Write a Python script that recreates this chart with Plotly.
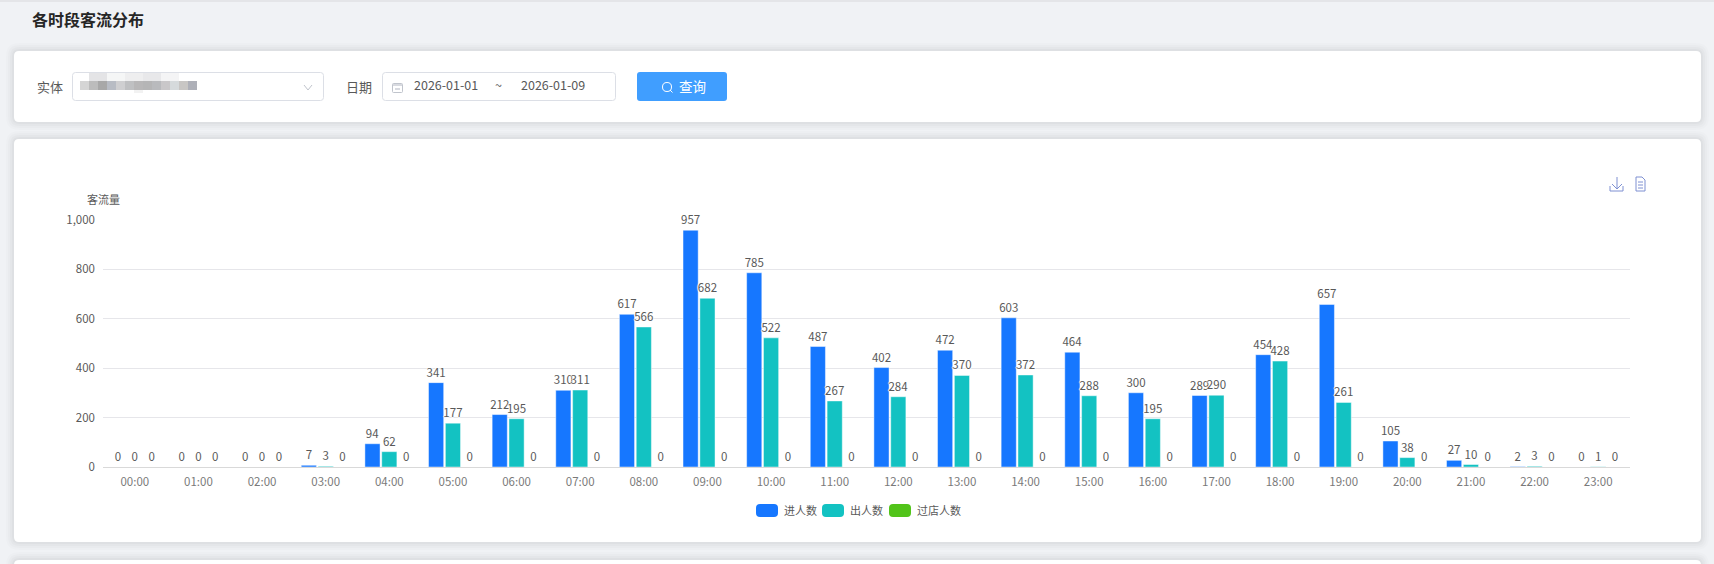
"""各时段客流分布 页面截图的复刻."""

import plotly.graph_objects as go

W, H = 1714, 564
FONT = "Noto Sans CJK SC"

hours = ["%02d:00" % h for h in range(24)]
series_names = ["进人数", "出人数", "过店人数"]
series_colors = ["#1677ff", "#13c2c2", "#52c41a"]
enter_counts = [0, 0, 0, 7, 94, 341, 212, 310, 617, 957, 785, 487, 402, 472, 603, 464, 300, 289, 454, 657, 105, 27, 2, 0]
exit_counts = [0, 0, 0, 3, 62, 177, 195, 311, 566, 682, 522, 267, 284, 370, 372, 288, 195, 290, 428, 261, 38, 10, 3, 1]
pass_counts = [0] * 24
y_ticks = [0, 200, 400, 600, 800, 1000]


def px(x):
    return x / W


def py(y):
    return 1 - y / H


def round_rect(x0, y0, x1, y1, r):
    a, b, c, d = px(x0), px(x1), py(y0), py(y1)
    rx, ry = r / W, r / H
    return (f"M{a + rx},{c} L{b - rx},{c} Q{b},{c} {b},{c - ry} L{b},{d + ry} Q{b},{d} {b - rx},{d} "
            f"L{a + rx},{d} Q{a},{d} {a},{d + ry} L{a},{c - ry} Q{a},{c} {a + rx},{c} Z")


def poly(points, close=False):
    s = "M" + " L".join(f"{px(x)},{py(y)}" for x, y in points)
    return s + (" Z" if close else "")


shapes = []
annotations = []


def box(x0, y0, x1, y1, r=0, fill="#ffffff", line=None, width=1, opacity=1):
    shapes.append(dict(type="path", xref="paper", yref="paper", layer="below", path=round_rect(x0, y0, x1, y1, r),
                       fillcolor=fill, opacity=opacity,
                       line=dict(color=line or "rgba(0,0,0,0)", width=width if line else 0)))


def stroke(points, color, width=1):
    shapes.append(dict(type="path", xref="paper", yref="paper", layer="below", path=poly(points),
                       line=dict(color=color, width=width)))


def card(x0, y0, x1, y1):
    for grow, alpha in [(8, 0.012), (6, 0.015), (4, 0.02), (2, 0.025)]:
        box(x0 - grow, y0 - grow, x1 + grow, y1 + grow, 5 + grow, fill="#000000", opacity=alpha)
    box(x0, y0, x1, y1, 5)


def label(x, y, text, size=12, color="#595959", anchor="left", bold=False):
    annotations.append(dict(xref="paper", yref="paper", x=px(x), y=py(y), text=f"<b>{text}</b>" if bold else text,
                            showarrow=False, xanchor=anchor, yanchor="middle", borderpad=0,
                            font=dict(family=FONT, size=size, color=color)))


# page
box(0, 0, W, 2, fill="#e4e5e8")
card(14, 51, 1701, 122)
card(14, 139, 1701, 542)
card(14, 560, 1701, 600)

label(31, 19, "各时段客流分布", 16, "#262626", bold=True)

# filter row
label(35.5, 86, "实体", 13)
box(72.5, 72.5, 323.5, 100.5, 3, line="#dcdfe6")
for x0, x1, c in [(89, 107, "#e4e4e6"), (107, 125, "#f5f6f6"), (125, 143, "#eeeeef"), (143, 161, "#e8e8ea"), (161, 179, "#f4f4f5")]:
    box(x0, 73, x1, 81, fill=c)
for i, c in enumerate(["#d5d5d5", "#bcbcbc", "#a8a8a8", "#b8bcc4", "#cfcfd1", "#bfc0c2", "#b8b7b8", "#b5b5b6", "#b9babd",
                       "#c9c7c9", "#d6dadc", "#c8c6c4", "#aeb0b8"]):
    box(80 + 9 * i, 81, 89 + 9 * i, 90, fill=c)
box(134, 90, 143, 93, fill="#f2f2f2")
stroke([(304, 85), (308, 90), (312, 85)], "#c0c4cc")

label(345, 86, "日期", 13)
box(382.5, 72.5, 615.5, 100.5, 3, line="#dcdfe6")
box(392.5, 83.5, 402.5, 92.5, 1, line="#c0c4cc")
box(393, 84, 402, 86, fill="#d8dae0")
box(395, 88, 400, 90, fill="#d8dae0")
label(412.5, 85, "2026-01-01", 12.5)
label(498, 85, "~", 12.5, anchor="center")
label(519.5, 85, "2026-01-09", 12.5)

box(637, 72, 727, 101, 3, fill="#409eff")
box(662.5, 82.5, 671.5, 91.5, 4.5, fill="rgba(0,0,0,0)", line="#ffffff")
stroke([(670, 90), (672.5, 92.5)], "#ffffff")
label(677.5, 86, "查询", 13.5, "#ffffff")

# toolbar icons
ICON = "#7f90d2"
stroke([(1617, 177), (1617, 189)], ICON)
stroke([(1612, 184), (1617, 189), (1622, 184)], ICON)
stroke([(1610, 186), (1610, 191), (1623, 191), (1623, 186)], ICON)
stroke([(1636, 177), (1642, 177), (1645, 180), (1645, 191), (1636, 191), (1636, 177)], ICON)
stroke([(1638, 182), (1643, 182)], ICON)
stroke([(1638, 185), (1643, 185)], ICON)
stroke([(1638, 188), (1643, 188)], ICON)

# axis name
label(103, 199, "客流量", 11, "#595959", anchor="center")

# legend
for name, color, x0 in zip(series_names, series_colors, [756, 822, 889]):
    box(x0, 504, x0 + 22, 517, 4, fill=color)
    label(x0 + 26.5, 510, name, 11)

fig = go.Figure()
for name, values, color in zip(series_names, [enter_counts, exit_counts, pass_counts], series_colors):
    fig.add_trace(go.Bar(
        name=name, x=hours, y=values, text=[str(v) for v in values], textposition="outside",
        textangle=0, constraintext="none", cliponaxis=False,
        textfont=dict(family=FONT, size=11.5, color="#595959",
                      shadow="1px 0 1px #fff, -1px 0 1px #fff, 0 1px 1px #fff, 0 -1px 1px #fff"),
        marker=dict(color=color, line=dict(color="rgba(255,255,255,0.45)", width=1)),
        hoverinfo="skip",
    ))

fig.update_layout(
    width=W, height=H, autosize=False, showlegend=False, barmode="group",
    bargap=0.206, bargroupgap=0.1,
    margin=dict(l=0, r=0, t=0, b=0, autoexpand=False),
    paper_bgcolor="#f0f2f5", plot_bgcolor="rgba(0,0,0,0)",
    font=dict(family=FONT, size=11.5, color="#595959"),
    shapes=shapes, annotations=annotations,
    xaxis=dict(domain=[px(103), px(1630)], type="category", showgrid=False, showline=True, linecolor="#d9d9d9",
               linewidth=1, ticks="", ticklabelstandoff=4, zeroline=False,
               tickfont=dict(family=FONT, size=11.5, color="#7a7a7a")),
    yaxis=dict(domain=[py(467), py(219.6)], range=[0, 1000], tickvals=y_ticks, tickformat=",", showgrid=True,
               gridcolor="#e6e6ea", gridwidth=1, zeroline=False, showline=False, ticks="", ticklabelstandoff=7,
               tickfont=dict(family=FONT, size=11.5, color="#595959")),
)

fig.write_html("out.html", config=dict(displayModeBar=False),
               post_script="document.body.style.margin='0';document.body.style.overflow='hidden';")
